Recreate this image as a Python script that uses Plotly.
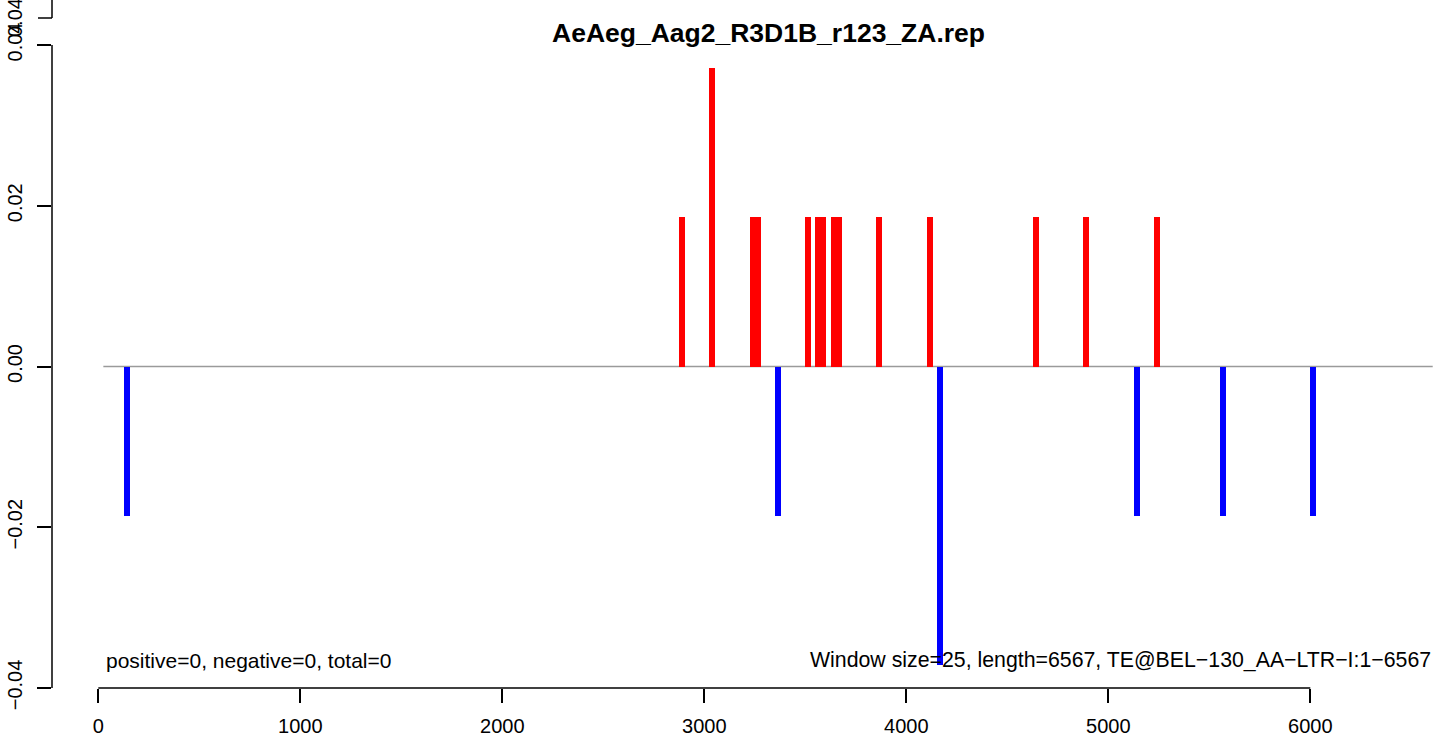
import plotly.graph_objects as go

# ---- data ----
pos_x = [2890, 3038, 3240, 3265, 3513, 3563, 3588, 3642, 3667, 3865, 4117, 4642, 4890, 5242]
pos_y = [0.0186, 0.0372, 0.0186, 0.0186, 0.0186, 0.0186, 0.0186, 0.0186, 0.0186, 0.0186,
         0.0186, 0.0186, 0.0186, 0.0186]
neg_x = [142, 3365, 4167, 5142, 5568, 6014]
neg_y = [-0.0186, -0.0186, -0.0372, -0.0186, -0.0186, -0.0186]

x_ticks = [0, 1000, 2000, 3000, 4000, 5000, 6000]
y_ticks = [-0.04, -0.02, 0.00, 0.02, 0.04]
y_tick_labels = ["\u22120.04", "\u22120.02", "0.00", "0.02", "0.04"]

title = "AeAeg_Aag2_R3D1B_r123_ZA.rep"
left_note = "positive=0, negative=0, total=0"
right_note = "Window size=25, length=6567, TE@BEL\u2212130_AA\u2212LTR\u2212I:1\u22126567"
upper_panel_label = "0.04"
baseline_start, baseline_end = 25, 6606
bar_width = 30

# ---- layout geometry (pixels) ----
W, H = 1441, 740
L, R, T, B = 52, 0, 45, 52
px_per_unit = 0.202
x0_px = 98.3
x_lo = (L - x0_px) / px_per_unit
x_hi = (W - R - x0_px) / px_per_unit
plot_h = H - T - B
plot_w = W - L - R

def px_to_paper_x(px):
    return (px - L) / plot_w

def px_to_paper_y(py):
    return (H - B - py) / plot_h

FONT = "Liberation Sans, Arial, Helvetica, sans-serif"

fig = go.Figure()
fig.add_trace(go.Bar(x=pos_x, y=pos_y, width=bar_width, marker=dict(color="#ff0000", line=dict(width=0)),
                     showlegend=False, hoverinfo="x+y"))
fig.add_trace(go.Bar(x=neg_x, y=neg_y, width=bar_width, marker=dict(color="#0000ff", line=dict(width=0)),
                     showlegend=False, hoverinfo="x+y"))

shapes = [
    dict(type="line", xref="x", yref="y", x0=baseline_start, x1=baseline_end, y0=0, y1=0,
         line=dict(color="#9a9a9a", width=1.3), layer="below"),
    dict(type="line", xref="x", yref="paper", x0=x_ticks[0], x1=x_ticks[-1], y0=0, y1=0,
         line=dict(color="black", width=1.5)),
    dict(type="line", xref="paper", yref="y", x0=0, x1=0, y0=y_ticks[0], y1=y_ticks[-1],
         line=dict(color="black", width=1.5)),
    dict(type="line", xref="paper", yref="paper", x0=0, x1=0, y0=px_to_paper_y(18), y1=px_to_paper_y(-5),
         line=dict(color="black", width=1.5)),
    dict(type="line", xref="paper", yref="paper", x0=px_to_paper_x(38), x1=0,
         y0=px_to_paper_y(18), y1=px_to_paper_y(18), line=dict(color="black", width=1.5)),
]

annotations = [
    dict(text="<b>" + title + "</b>", xref="paper", yref="paper", x=px_to_paper_x(768), y=px_to_paper_y(33),
         xanchor="center", yanchor="middle", showarrow=False, font=dict(family=FONT, size=26.5, color="black")),
    dict(text=left_note, xref="paper", yref="paper", x=px_to_paper_x(104), y=px_to_paper_y(660),
         xanchor="left", yanchor="middle", showarrow=False, font=dict(family=FONT, size=21, color="black")),
    dict(text=right_note, xref="paper", yref="paper", x=px_to_paper_x(1433), y=px_to_paper_y(660),
         xanchor="right", yanchor="middle", showarrow=False, font=dict(family=FONT, size=21.3, color="black")),
    dict(text=upper_panel_label, xref="paper", yref="paper", x=px_to_paper_x(15), y=px_to_paper_y(18),
         xanchor="center", yanchor="middle", textangle=-90, showarrow=False,
         font=dict(family=FONT, size=20, color="black")),
]

fig.update_layout(
    width=W, height=H,
    margin=dict(l=L, r=R, t=T, b=B, pad=0),
    plot_bgcolor="white", paper_bgcolor="white",
    barmode="overlay", bargap=0,
    shapes=shapes, annotations=annotations,
    font=dict(family=FONT, size=20, color="black"),
    xaxis=dict(range=[x_lo, x_hi], tickvals=x_ticks, ticktext=[str(v) for v in x_ticks],
               ticks="outside", ticklen=14, tickwidth=1.5, tickcolor="black",
               ticklabelstandoff=6,
               showline=False, showgrid=False, zeroline=False,
               tickfont=dict(family=FONT, size=20, color="black")),
    yaxis=dict(range=[y_ticks[0], y_ticks[-1]], tickvals=y_ticks, ticktext=y_tick_labels,
               ticks="outside", ticklen=14, tickwidth=1.5, tickcolor="black", tickangle=-90,
               ticklabelstandoff=7,
               showline=False, showgrid=False, zeroline=False,
               tickfont=dict(family=FONT, size=20, color="black")),
)

fig.write_html("out.html", config={"displayModeBar": False},
               post_script="document.body.style.margin='0';document.body.style.overflow='hidden';")
